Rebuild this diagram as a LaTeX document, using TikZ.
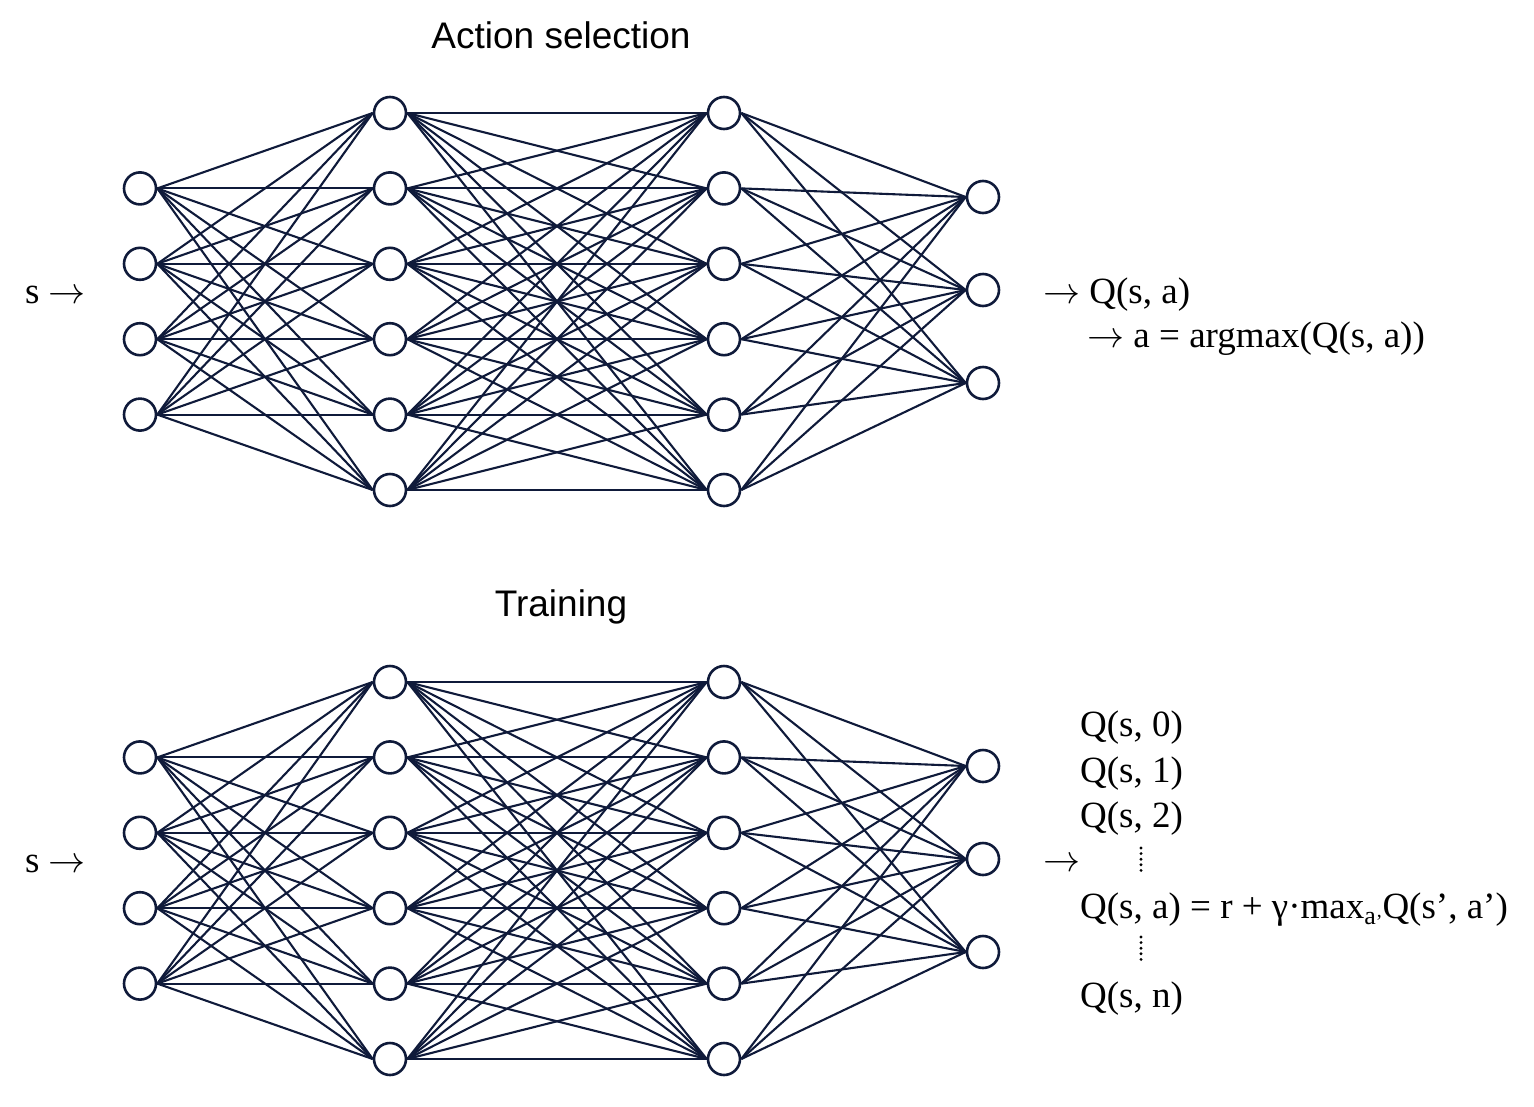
\documentclass[tikz,border=0pt]{standalone}
\usepackage{graphicx}
\usepackage{fontspec}
\setmainfont{Liberation Serif}
\newfontfamily\titlefont{Liberation Sans}
\usetikzlibrary{backgrounds}
\definecolor{netblue}{RGB}{15,26,58}
\newcommand\myarr{\resizebox{37pt}{!}{\fontsize{10}{12}\selectfont$\rightarrow$}}
\newcommand\mynet[2]{%
  \foreach \i/\y in {1/188.4,2/263.8,3/339.2,4/414.6}
    \node[neuron] (#1I\i) at (140,\y+#2) {};
  \foreach \i/\y in {1/113,2/188.4,3/263.8,4/339.2,5/414.6,6/490}{
    \node[neuron] (#1H\i) at (390,\y+#2) {};
    \node[neuron] (#1G\i) at (724,\y+#2) {};
  }
  \foreach \i/\y in {1/197,2/290,3/383}
    \node[neuron] (#1O\i) at (983,\y+#2) {};
  \begin{scope}[on background layer]
    \foreach \a in {1,...,4}
      \foreach \b in {1,...,6}
        \draw[conn] (#1I\a.east) -- (#1H\b.west);
    \foreach \a in {1,...,6}
      \foreach \b in {1,...,6}
        \draw[conn] (#1H\a.east) -- (#1G\b.west);
    \foreach \a in {1,...,6}
      \foreach \b in {1,...,3}
        \draw[conn] (#1G\a.east) -- (#1O\b.west);
  \end{scope}
}
\begin{document}
\begin{tikzpicture}[x=1pt,y=-1pt,
  neuron/.style={circle,draw=netblue,line width=2.6pt,fill=white,minimum size=32pt,inner sep=0pt},
  conn/.style={draw=netblue,line width=2.1pt},
  serif/.style={font=\fontsize{37}{44}\selectfont,anchor=base west,inner sep=0pt},
  heading/.style={font=\titlefont\fontsize{37}{44}\selectfont,anchor=base,inner sep=0pt},
  dotmark/.style={circle,fill=black,inner sep=0pt,minimum size=3.2pt}]
\useasboundingbox (0,0) rectangle (1534,1106);
\mynet{t}{0}
\mynet{b}{569}
% titles
\node[heading] (ttitle) at (561,48) {Action selection};
\node[heading] (btitle) at (561,616) {Training};
% top texts
\node[serif] (tin) at (25,303) {s \myarr};
\node[serif] (tq) at (1043,303) {\myarr{} Q(s, a)};
\node[serif] (targ) at (1087,347) {\myarr{} a = argmax(Q(s, a))};
% bottom texts
\node[serif] (bin) at (25,872) {s \myarr};
\node[serif] (barr) at (1043,871) {\myarr};
\node[serif] (bq0) at (1080,736) {Q(s, 0)};
\node[serif] (bq1) at (1080,782) {Q(s, 1)};
\node[serif] (bq2) at (1080,827) {Q(s, 2)};
\foreach \k in {0,...,4}{
  \node[dotmark] (da\k) at (1141,848+5.6*\k) {};
  \node[dotmark] (db\k) at (1141,937+5.6*\k) {};
}
\node[serif] (bqa) at (1080,918) {Q(s, a) = r + γ·max\raisebox{-6pt}{\fontsize{26}{26}\selectfont a\raisebox{-4pt}{\fontsize{20}{20}\selectfont ’}}Q(s’, a’)};
\node[serif] (bqn) at (1080,1007) {Q(s, n)};
\end{tikzpicture}
\end{document}
